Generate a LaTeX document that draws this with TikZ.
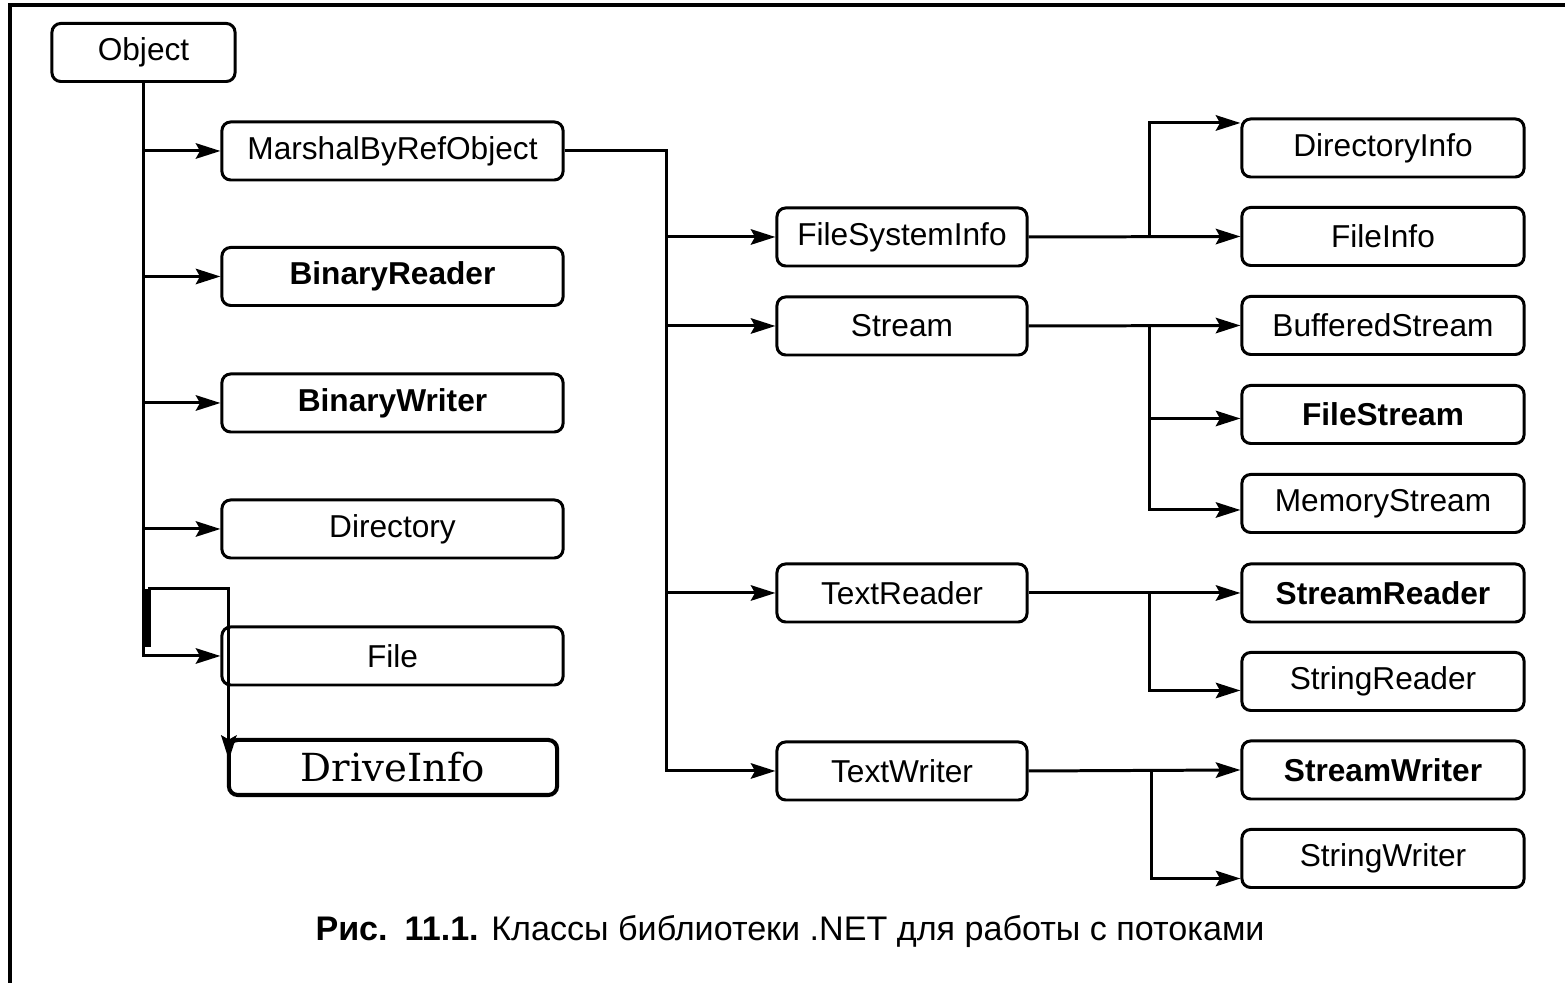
\documentclass[tikz,border=0pt]{standalone}
\usepackage{fontspec}
\newfontfamily\helv{Liberation Sans}
\newfontfamily\serifdv{DejaVu Serif}
\usepackage{tikz}
\usetikzlibrary{arrows.meta}
\tikzset{ class_box/.style = {rectangle, rounded corners=2.5pt, draw, line width=0.85pt, minimum width=#1, minimum height=0.58cm, inner sep=0pt, align=center, font=\helv\fontsize{9}{11}\selectfont} }
\tikzset{ class_box/.default = 2.5cm }
\tikzset{ drive_box/.style = {class_box=3.28cm, line width=1.15pt, minimum height=0.55cm, font=\serifdv\fontsize{11}{13}\selectfont} }
\tikzset{ >={Stealth[length=7pt, width=4.4pt, inset=1.2pt]} }

\begin{document}
\begin{tikzpicture}[x=0.01cm, y=-0.01cm, line width=0.85pt]
                \useasboundingbox (0, 0) rectangle (1565, 983);
                \draw[line width=1.1pt] (1565, 5) -- (10, 5) -- (10, 983);
                % first level
                \node [class_box=1.83cm] (Obj) at (143.5, 52.5) {Object};
                \node [class_box=3.41cm] (MBR) at (392.5, 151) {MarshalByRefObject};
                \node [class_box=3.41cm] (BR) at (392.5, 276.5) {\textbf{BinaryReader}};
                \node [class_box=3.41cm] (BW) at (392.5, 403) {\textbf{BinaryWriter}};
                \node [class_box=3.41cm] (Dir) at (392.5, 529) {Directory};
                \node [class_box=3.41cm] (File) at (392.5, 656) {File};
                \node [drive_box] (Drive) at (393, 767.5) {DriveInfo};
                % second level
                \node [class_box] (FSI) at (902, 237) {FileSystemInfo};
                \node [class_box] (St) at (902, 326) {Stream};
                \node [class_box] (TR) at (902, 593) {TextReader};
                \node [class_box] (TW) at (902, 771) {TextWriter};
                % third level
                \node [class_box=2.82cm] (DI) at (1383, 148) {DirectoryInfo};
                \node [class_box=2.82cm] (FI) at (1383, 236.5) {FileInfo};
                \node [class_box=2.82cm] (BS) at (1383, 325.5) {BufferedStream};
                \node [class_box=2.82cm] (FS) at (1383, 414.5) {\textbf{FileStream}};
                \node [class_box=2.82cm] (MS) at (1383, 503.5) {MemoryStream};
                \node [class_box=2.82cm] (SR) at (1383, 593) {\textbf{StreamReader}};
                \node [class_box=2.82cm] (StrR) at (1383, 681.5) {StringReader};
                \node [class_box=2.82cm] (SW) at (1383, 770) {\textbf{StreamWriter}};
                \node [class_box=2.82cm] (StrW) at (1383, 858.5) {StringWriter};
                \node [font=\helv\fontsize{9.7}{11}\selectfont] (caption) at (790, 932) {\textbf{Рис.\enspace 11.1.} Классы библиотеки .NET для работы с потоками};
                % Object trunk
                \draw[->] (Obj.south) |- (File.west);
                \foreach \c in {MBR, BR, BW, Dir}
                        \draw[->] (Obj.south |- \c.west) -- (\c.west);
                \coordinate (loop_low) at (148, 647);
                \coordinate (loop_top) at (148, 589);
                \draw[line width=1.6pt] (loop_low) -- (loop_top);
                \draw[->] (loop_top) -| ([xshift=0.02cm, yshift=-0.22cm]Drive.north west);
                % MarshalByRefObject trunk
                \coordinate (mbr_trunk) at ([xshift=1.02cm]MBR.east);
                \draw[->] (MBR.east) -- (mbr_trunk) |- (TW.west);
                \foreach \c in {FSI, St, TR}
                        \draw[->] (mbr_trunk |- \c.west) -- (\c.west);
                % forks to the right column
                \coordinate (fsi_fork) at ([xshift=1.21cm]FSI.east);
                \draw[->] (FSI.east) -- (FI.west);
                \draw[->] (fsi_fork) |- ([yshift=0.25cm]DI.west);
                \coordinate (st_fork) at ([xshift=1.21cm]St.east);
                \draw[->] (St.east) -- (BS.west);
                \draw[->] (st_fork) |- ([yshift=-0.04cm]FS.west);
                \draw[->] (st_fork) |- ([yshift=-0.065cm]MS.west);
                \coordinate (tr_fork) at ([xshift=1.21cm]TR.east);
                \draw[->] (TR.east) -- (SR.west);
                \draw[->] (tr_fork) |- ([yshift=-0.09cm]StrR.west);
                \coordinate (tw_fork) at ([xshift=1.23cm]TW.east);
                \draw[->] (TW.east) -- (SW.west);
                \draw[->] (tw_fork) |- ([yshift=-0.2cm]StrW.west);
        \end{tikzpicture}
\end{document}
